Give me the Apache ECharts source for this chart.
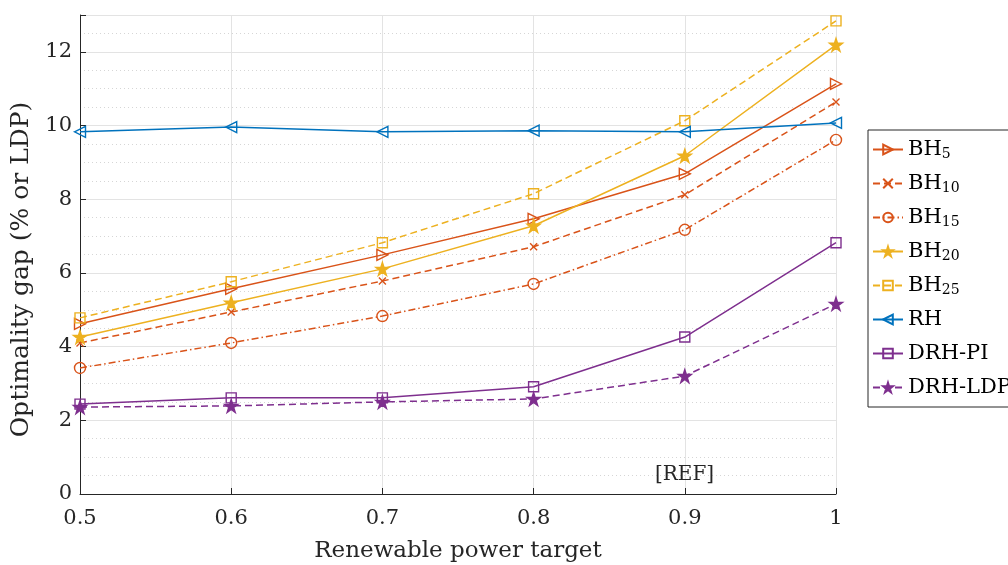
<!DOCTYPE html>
<html><head><meta charset="utf-8">
<script src="https://cdn.jsdelivr.net/npm/echarts@6/dist/echarts.min.js"></script>
<style>html,body{margin:0;padding:0;background:#fff}#c{width:1008px;height:565px}</style>
</head><body><div id="c"></div>
<script>
const targets = [0.5, 0.6, 0.7, 0.8, 0.9, 1.0];
const bh5   = [4.62, 5.57, 6.49, 7.47, 8.69, 11.13];
const bh10  = [4.10, 4.94, 5.78, 6.71, 8.12, 10.64];
const bh15  = [3.42, 4.10, 4.83, 5.70, 7.17, 9.61];
const bh20  = [4.26, 5.19, 6.11, 7.28, 9.18, 12.19];
const bh25  = [4.78, 5.76, 6.82, 8.15, 10.13, 12.84];
const rh    = [9.83, 9.96, 9.83, 9.86, 9.83, 10.07];
const drhPI = [2.44, 2.61, 2.61, 2.91, 4.26, 6.82];
const drhLDP= [2.36, 2.39, 2.50, 2.58, 3.20, 5.16];
const seriesNames = ['BH5','BH10','BH15','BH20','BH25','RH','DRH-PI','DRH-LDP'];
const yTicks = [0, 2, 4, 6, 8, 10, 12];

const FONT = '"DejaVu Serif", "Liberation Serif", serif';
const C1 = '#D95319', C2 = '#EDB120', C3 = '#0072BD', C4 = '#7E2F8E';
const STAR = 'path://M50,0 L61.2,34.5 L97.6,34.5 L68.2,55.9 L79.4,90.5 L50,69.1 L20.6,90.5 L31.8,55.9 L2.4,34.5 L38.8,34.5 Z';
const XMARK = 'path://M0,0 L10,10 M10,0 L0,10';

function pts(v){ return targets.map((x,i)=>[x, v[i]]); }
function mk(name, data, color, lineType, symbol, size, filled, rotate){
  return {
    name, type:'line', data: pts(data), symbol, symbolSize: size, symbolRotate: rotate||0,
    lineStyle:{color, width:1.5, type: lineType},
    itemStyle:{color: filled ? color : 'rgba(255,255,255,0)', borderColor: color, borderWidth: 1.4},
    color, z: 3, animation:false
  };
}
const series = [
  mk('BH5', bh5, C1, 'solid', 'triangle', 11, false, -90),
  mk('BH10', bh10, C1, [7,4], XMARK, 7, false),
  mk('BH15', bh15, C1, [7,3,1.5,3], 'circle', 11, false),
  mk('BH20', bh20, C2, 'solid', STAR, 13, true),
  mk('BH25', bh25, C2, [7,4], 'rect', 10, false),
  mk('RH', rh, C3, 'solid', 'triangle', 11, false, 90),
  mk('DRH-PI', drhPI, C4, 'solid', 'rect', 10, false),
  mk('DRH-LDP', drhLDP, C4, [7,4], STAR, 13, true),
];

const chart = echarts.init(document.getElementById('c'), null, {renderer:'canvas'});
chart.setOption({
  animation:false,
  backgroundColor:'#fff',
  grid:{left:80, right:172, top:15, bottom:71, containLabel:false, outerBoundsMode:'none'},
  xAxis:{
    type:'value', min:0.5, max:1, interval:0.1,
    name:'Renewable power target', nameLocation:'middle', nameGap:46,
    nameTextStyle:{fontFamily:FONT, fontSize:23, color:'#262626'},
    axisLine:{show:true, lineStyle:{color:'#262626', width:1}},
    axisTick:{show:true, inside:true, length:6, lineStyle:{color:'#262626'}},
    axisLabel:{fontFamily:FONT, fontSize:21, color:'#262626', margin:14,
      formatter: v => String(Math.round(v*10)/10)},
    splitLine:{show:true, lineStyle:{color:'#e3e3e3', width:1}}
  },
  yAxis:{
    type:'value', min:0, max:13, interval:2,
    name:'Optimality gap (% or LDP)', nameLocation:'middle', nameGap:35,
    nameTextStyle:{fontFamily:FONT, fontSize:25, color:'#262626', padding:[0,0,0,-30]},
    axisLine:{show:true, lineStyle:{color:'#262626', width:1}},
    axisTick:{show:true, inside:true, length:6, lineStyle:{color:'#262626'}},
    axisLabel:{fontFamily:FONT, fontSize:21, color:'#262626', margin:8,
      formatter: v => yTicks.includes(v) ? String(v) : ''},
    splitLine:{show:true, lineStyle:{color:'#e3e3e3', width:1}},
    minorTick:{show:false, splitNumber:4},
    minorSplitLine:{show:true, lineStyle:{color:'#d6d6d6', width:1, type:[1,3]}}
  },
  legend:{
    orient:'vertical', left:868, top:130, data: seriesNames,
    backgroundColor:'#fff', borderColor:'#262626', borderWidth:1,
    padding:[7,8,7,4], itemGap:9, itemWidth:30, itemHeight:12,
    textStyle:{fontFamily:FONT, fontSize:21, color:'#000', lineHeight:25,
      rich:{
        n:{fontFamily:FONT, fontSize:21, color:'#000', lineHeight:25},
        s:{fontFamily:FONT, fontSize:14, color:'#000', padding:[10,0,0,0]}
      }},
    formatter: name => {
      const m = name.match(/^BH(\d+)$/);
      return m ? '{n|BH}{s|' + m[1] + '}' : '{n|' + name + '}';
    }
  },
  graphic:[{type:'text', left:655, top:465, z:10,
    style:{text:'[REF]', fontFamily:FONT, fontSize:20, fill:'#262626'}}],
  series
});
</script></body></html>
